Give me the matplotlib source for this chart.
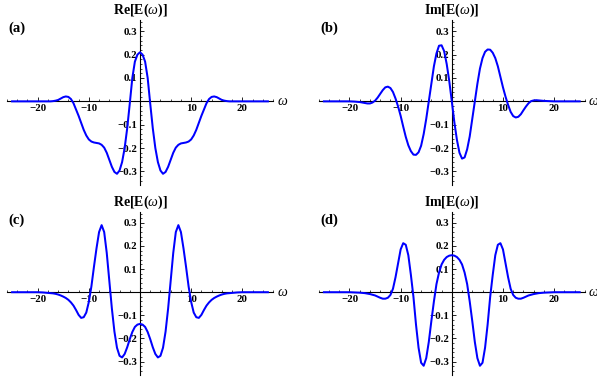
import matplotlib
matplotlib.use('Agg')
import matplotlib.pyplot as plt
from matplotlib.ticker import MultipleLocator

## ==> DATA
omega = [-25, -22, -20, -19, -18,
	-17.5, -17, -16.5, -16, -15.5, -15, -14.5, -14, -13.5, -13,
	-12.5, -12, -11.5, -11, -10.5, -10, -9.5, -9, -8.5, -8,
	-7.5, -7, -6.5, -6, -5.5, -5, -4.5, -4, -3.5, -3,
	-2.5, -2, -1.5, -1, -0.5, 0, 0.5, 1, 1.5, 2, 2.5,
	3, 3.5, 4, 4.5, 5, 5.5, 6, 6.5, 7, 7.5,
	8, 8.5, 9, 9.5, 10, 10.5, 11, 11.5, 12, 12.5,
	13, 13.5, 14, 14.5, 15, 15.5, 16, 16.5, 17, 17.5,
	18, 19, 20, 22, 25]

re_a = [0, 0, 0, 0, 0,
	0.000, 0.001, 0.003, 0.006, 0.012, 0.018, 0.021, 0.019, 0.010, -0.008,
	-0.035, -0.062, -0.092, -0.122, -0.146, -0.163, -0.172, -0.176, -0.178, -0.180,
	-0.186, -0.198, -0.220, -0.250, -0.280, -0.302, -0.310, -0.296, -0.260, -0.200,
	-0.115, -0.010, 0.100, 0.170, 0.200, 0.210, 0.200, 0.170, 0.100, -0.010, -0.115,
	-0.200, -0.260, -0.296, -0.310, -0.302, -0.280, -0.250, -0.220, -0.198, -0.186,
	-0.180, -0.178, -0.176, -0.172, -0.163, -0.146, -0.122, -0.092, -0.062, -0.035,
	-0.008, 0.010, 0.019, 0.021, 0.018, 0.012, 0.006, 0.003, 0.001, 0.000,
	0, 0, 0, 0, 0]

im_b = [0, 0, 0, -0.001, -0.003,
	-0.005, -0.007, -0.009, -0.009, -0.005, 0.003, 0.016, 0.032, 0.048, 0.060,
	0.063, 0.057, 0.040, 0.012, -0.022, -0.062, -0.108, -0.152, -0.188, -0.213,
	-0.228, -0.229, -0.218, -0.190, -0.140, -0.075, 0.000, 0.075, 0.150, 0.205,
	0.238, 0.240, 0.215, 0.160, 0.087, 0.000, -0.090, -0.165, -0.220, -0.245, -0.240,
	-0.205, -0.150, -0.075, 0.000, 0.075, 0.140, 0.185, 0.212, 0.222, 0.221,
	0.208, 0.185, 0.150, 0.105, 0.060, 0.020, -0.015, -0.045, -0.063, -0.069,
	-0.066, -0.055, -0.038, -0.022, -0.008, 0.001, 0.004, 0.005, 0.004, 0.003,
	0.002, 0.001, 0, 0, 0]

re_c = [0, 0, 0, -0.001, -0.003,
	-0.004, -0.005, -0.007, -0.010, -0.014, -0.019, -0.025, -0.033, -0.044, -0.058,
	-0.077, -0.098, -0.111, -0.108, -0.088, -0.042, 0.025, 0.110, 0.190, 0.260,
	0.290, 0.260, 0.170, 0.050, -0.070, -0.170, -0.240, -0.275, -0.282, -0.267,
	-0.238, -0.203, -0.172, -0.150, -0.140, -0.137, -0.140, -0.150, -0.172, -0.203, -0.238,
	-0.267, -0.282, -0.275, -0.240, -0.170, -0.070, 0.050, 0.170, 0.260, 0.290,
	0.260, 0.190, 0.110, 0.025, -0.042, -0.088, -0.108, -0.111, -0.098, -0.077,
	-0.058, -0.044, -0.033, -0.025, -0.019, -0.014, -0.010, -0.007, -0.005, -0.004,
	-0.003, -0.001, 0, 0, 0]

im_d = [0, 0, 0, -0.001, -0.002,
	-0.003, -0.004, -0.006, -0.008, -0.011, -0.014, -0.019, -0.024, -0.028, -0.028,
	-0.024, -0.012, 0.015, 0.065, 0.125, 0.185, 0.212, 0.205, 0.160, 0.075,
	-0.020, -0.140, -0.240, -0.305, -0.318, -0.285, -0.215, -0.125, -0.040, 0.035,
	0.085, 0.120, 0.140, 0.152, 0.158, 0.160, 0.158, 0.152, 0.140, 0.120, 0.085,
	0.035, -0.040, -0.125, -0.215, -0.285, -0.318, -0.305, -0.240, -0.140, -0.020,
	0.075, 0.160, 0.205, 0.212, 0.185, 0.125, 0.065, 0.015, -0.012, -0.024,
	-0.028, -0.028, -0.024, -0.019, -0.014, -0.011, -0.008, -0.006, -0.004, -0.003,
	-0.002, -0.001, 0, 0, 0]

x_ticks = [-20, -10, 10, 20]
x_labels = ['\u221220', '\u221210', '10', '20']
y_ticks = [-0.3, -0.2, -0.1, 0.1, 0.2, 0.3]
y_labels = ['\u22120.3', '\u22120.2', '\u22120.1', '0.1', '0.2', '0.3']

panels = ['(a)', '(b)', '(c)', '(d)']
titles = [r'$\mathbf{Re[E(}\omega\mathbf{)]}$', r'$\mathbf{Im[E(}\omega\mathbf{)]}$',
	r'$\mathbf{Re[E(}\omega\mathbf{)]}$', r'$\mathbf{Im[E(}\omega\mathbf{)]}$']
series = [re_a, im_b, re_c, im_d]

## ==> FONTS
plt.rcParams['font.family'] = 'Liberation Serif'
plt.rcParams['mathtext.fontset'] = 'custom'
plt.rcParams['mathtext.rm'] = 'Liberation Serif:bold'
plt.rcParams['mathtext.bf'] = 'Liberation Serif:bold'
plt.rcParams['mathtext.it'] = 'Liberation Serif:italic'

fig = plt.figure(figsize=(5.97, 3.81), dpi=100)

# axes boxes in figure fractions (left, bottom, width, height)
boxes = [[0.0117, 0.5144, 0.4456, 0.433],
	[0.534, 0.5144, 0.4456, 0.433],
	[0.0117, 0.0157, 0.4456, 0.4286],
	[0.534, 0.0157, 0.4456, 0.4286]]

for i in range(4):
	ax = fig.add_axes(boxes[i])
	ax.patch.set_visible(False)
	ax.plot(omega, series[i], color='#0000ff', lw=1.45, solid_joinstyle='round', zorder=3)
	ax.set_xlim(-26, 26)
	ax.set_ylim(-0.358, 0.348)

## ==> MATHEMATICA STYLE AXES THROUGH THE ORIGIN
	for s in ['top', 'right']:
		ax.spines[s].set_visible(False)
	for s in ['left', 'bottom']:
		ax.spines[s].set_position(('data', 0))
		ax.spines[s].set_linewidth(0.8)
	ax.set_xticks(x_ticks)
	ax.set_xticklabels(x_labels)
	ax.set_yticks(y_ticks)
	ax.set_yticklabels(y_labels)
	ax.xaxis.set_minor_locator(MultipleLocator(2))
	ax.yaxis.set_minor_locator(MultipleLocator(0.02))
	ax.tick_params(which='major', direction='in', length=3, width=0.6, labelsize=7.8, pad=2)
	ax.tick_params(which='minor', direction='in', length=1.5, width=0.5)
	for lbl in ax.get_xticklabels() + ax.get_yticklabels():
		lbl.set_fontweight('bold')

	ax.annotate(titles[i], xy=(0, 1), xycoords=('data', 'axes fraction'),
		xytext=(0, 7), textcoords='offset points', ha='center', va='center', fontsize=10)
	ax.annotate(panels[i], xy=(0, 1), xycoords='axes fraction', xytext=(1, -1),
		textcoords='offset points', ha='left', va='top', fontsize=10.5, fontweight='bold')
	ax.annotate('\u03c9', xy=(1, 0), xycoords=('axes fraction', 'data'), xytext=(3, 0),
		textcoords='offset points', ha='left', va='center', fontsize=10, style='italic',
		annotation_clip=False)

fig.savefig('out.png', dpi=100)
